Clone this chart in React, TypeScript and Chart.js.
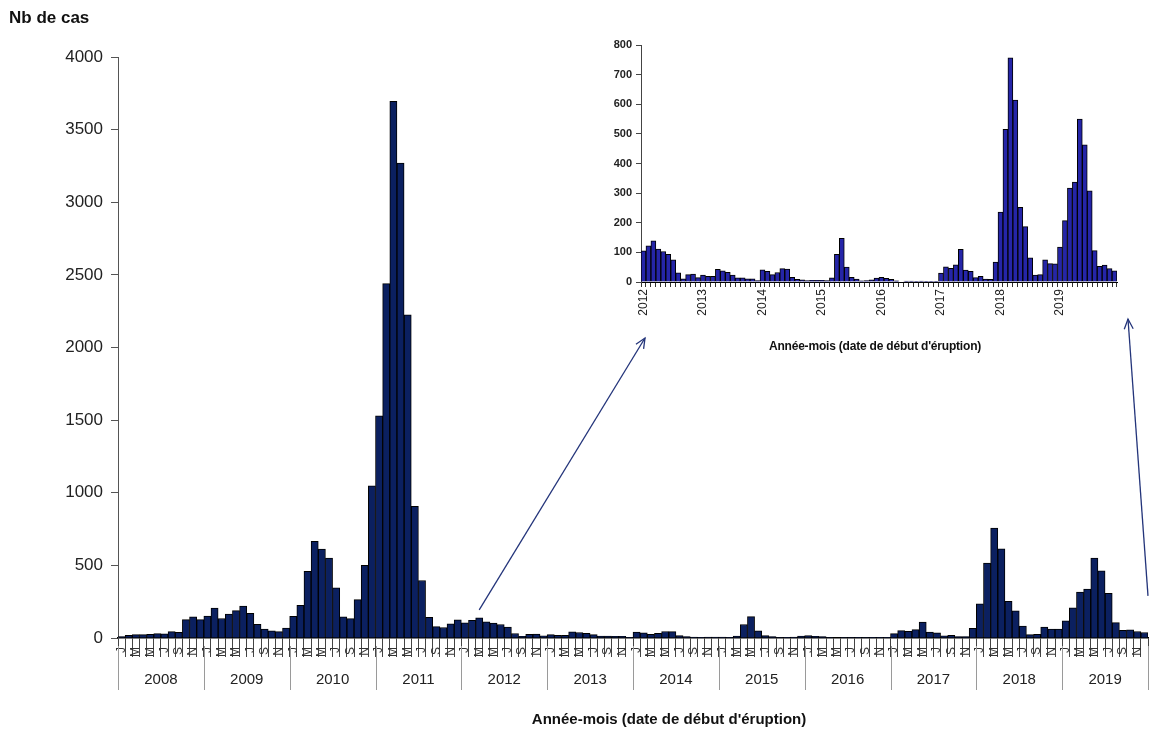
import React, { useEffect, useRef } from "react";
import { Chart, registerables } from "chart.js";

Chart.register(...registerables);

const FONT = "'Liberation Sans', Arial, Helvetica, sans-serif";

const years = ["2008", "2009", "2010", "2011", "2012", "2013", "2014", "2015", "2016", "2017", "2018", "2019"];
const monthLetters = ["J", "F", "M", "A", "M", "J", "J", "A", "S", "O", "N", "D"];

const cases2008 = [10, 18, 23, 23, 25, 30, 28, 44, 39, 126, 145, 126];
const cases2009 = [151, 206, 134, 165, 189, 220, 170, 94, 62, 50, 44, 69];
const cases2010 = [149, 225, 459, 665, 612, 551, 345, 145, 133, 264, 500, 1048];
const cases2011 = [1530, 2440, 3695, 3270, 2225, 906, 396, 143, 78, 72, 97, 125];
const cases2012 = [105, 122, 139, 111, 103, 93, 75, 31, 11, 25, 27, 15];
const cases2013 = [23, 19, 19, 43, 38, 33, 23, 14, 14, 11, 11, 5];
const cases2014 = [41, 36, 25, 32, 45, 44, 16, 9, 7, 5, 6, 6];
const cases2015 = [6, 5, 14, 93, 147, 50, 16, 10, 4, 5, 7, 13];
const cases2016 = [16, 12, 9, 4, 0, 3, 3, 2, 3, 1, 1, 1];
const cases2017 = [30, 51, 46, 58, 110, 40, 36, 15, 19, 10, 9, 67];
const cases2018 = [236, 515, 757, 614, 252, 187, 82, 23, 25, 75, 62, 61];
const cases2019 = [118, 207, 317, 337, 550, 463, 308, 106, 53, 57, 45, 38];

const mainYears = years;
const insetYears = years.slice(4);

const mainCases = [
  ...cases2008, ...cases2009, ...cases2010, ...cases2011,
  ...cases2012, ...cases2013, ...cases2014, ...cases2015,
  ...cases2016, ...cases2017, ...cases2018, ...cases2019,
];
const insetCases = [
  ...cases2012, ...cases2013, ...cases2014, ...cases2015,
  ...cases2016, ...cases2017, ...cases2018, ...cases2019,
];

const mainLabels = mainYears.flatMap((y) => monthLetters.map((m, i) => `${y}-${i + 1}`));
const insetLabels = insetYears.flatMap((y) => monthLetters.map((m, i) => `${y}-${i + 1}`));

const mainYMax = 4000;
const mainYStep = 500;
const insetYMax = 800;
const insetYStep = 100;

const mainTitle = "Nb de cas";
const xTitle = "Année-mois (date de début d'éruption)";

function drawArrow(ctx: CanvasRenderingContext2D, x1: number, y1: number, x2: number, y2: number) {
  ctx.beginPath();
  ctx.moveTo(x1, y1);
  ctx.lineTo(x2, y2);
  ctx.stroke();
  const ang = Math.atan2(y2 - y1, x2 - x1);
  const len = 11;
  const spread = 0.42;
  ctx.beginPath();
  ctx.moveTo(x2 - len * Math.cos(ang - spread), y2 - len * Math.sin(ang - spread));
  ctx.lineTo(x2, y2);
  ctx.lineTo(x2 - len * Math.cos(ang + spread), y2 - len * Math.sin(ang + spread));
  ctx.stroke();
}

const mainDecor = {
  id: "mainDecor",
  afterDraw(chart: any) {
    const { ctx, chartArea } = chart;
    const x = chart.scales.x;
    const y = chart.scales.y;
    const half = (x.getPixelForValue(1) - x.getPixelForValue(0)) / 2;
    ctx.save();
    // year separators
    ctx.strokeStyle = "#9a9a9a";
    ctx.lineWidth = 1;
    for (let k = 0; k <= mainYears.length; k++) {
      const px = k < mainYears.length ? x.getPixelForValue(k * 12) - half : x.getPixelForValue(mainCases.length - 1) + half;
      const xx = Math.round(px) + 0.5;
      ctx.beginPath();
      ctx.moveTo(xx, chartArea.bottom + 8);
      ctx.lineTo(xx, chartArea.bottom + 52);
      ctx.stroke();
    }
    // year labels
    ctx.fillStyle = "#222";
    ctx.font = `15px ${FONT}`;
    ctx.textAlign = "center";
    ctx.textBaseline = "middle";
    mainYears.forEach((yr, k) => {
      const cx = (x.getPixelForValue(k * 12) + x.getPixelForValue(k * 12 + 11)) / 2;
      ctx.fillText(yr, cx, chartArea.bottom + 42);
    });
    // arrows
    ctx.strokeStyle = "#23347a";
    ctx.lineWidth = 1.3;
    const a1x = x.getPixelForValue(50);
    const a1y = y.getPixelForValue(mainCases[50]) - 8;
    drawArrow(ctx, a1x, a1y, 645, 338);
    const a2x = chartArea.right;
    const a2y = y.getPixelForValue(290);
    drawArrow(ctx, a2x, a2y, 1128, 319);
    ctx.restore();
  },
};

export default function App() {
  const mainRef = useRef<HTMLCanvasElement | null>(null);
  const insetRef = useRef<HTMLCanvasElement | null>(null);

  useEffect(() => {
    if (!mainRef.current || !insetRef.current) return;
    const main = new Chart(mainRef.current, {
      type: "bar",
      data: {
        labels: mainLabels,
        datasets: [
          {
            data: mainCases,
            backgroundColor: "#0b2060",
            borderColor: "#000000",
            borderWidth: 1,
            categoryPercentage: 1,
            barPercentage: 1,
          },
        ],
      },
      options: {
        animation: false,
        responsive: false,
        maintainAspectRatio: false,
        layout: { padding: { left: 58, top: 57, right: 1, bottom: 53 } },
        plugins: { legend: { display: false }, tooltip: { enabled: false } },
        scales: {
          x: {
            type: "category",
            offset: true,
            grid: {
              display: true,
              offset: true,
              drawOnChartArea: false,
              drawTicks: true,
              tickLength: 19,
              color: "#444",
              lineWidth: 1,
            },
            border: { display: true, color: "#000", width: 1.5 },
            ticks: {
              autoSkip: false,
              minRotation: 90,
              maxRotation: 90,
              padding: -10,
              color: "#333",
              font: { size: 12, family: FONT },
              callback: (_v: any, i: number) => (i % 2 === 0 ? monthLetters[i % 12] : ""),
            },
            afterFit: (s: any) => {
              s.height = 40;
            },
          },
          y: {
            min: 0,
            max: mainYMax,
            ticks: {
              stepSize: mainYStep,
              color: "#222",
              padding: 8,
              font: { size: 17, family: FONT },
              callback: (v: any) => String(v),
            },
            grid: {
              display: true,
              drawOnChartArea: false,
              drawTicks: true,
              tickLength: 7,
              color: "#555",
            },
            border: { display: true, color: "#555", width: 1 },
            afterFit: (s: any) => {
              s.width = 60;
            },
          },
        },
      },
      plugins: [mainDecor],
    } as any);

    const inset = new Chart(insetRef.current, {
      type: "bar",
      data: {
        labels: insetLabels,
        datasets: [
          {
            data: insetCases,
            backgroundColor: "#2525a8",
            borderColor: "#000000",
            borderWidth: 1,
            categoryPercentage: 1,
            barPercentage: 1,
          },
        ],
      },
      options: {
        animation: false,
        responsive: false,
        maintainAspectRatio: false,
        layout: { padding: { left: 21, top: 15, right: 23, bottom: 2 } },
        plugins: { legend: { display: false }, tooltip: { enabled: false } },
        scales: {
          x: {
            type: "category",
            offset: true,
            grid: {
              display: true,
              offset: true,
              drawOnChartArea: false,
              drawTicks: true,
              tickLength: 5,
              color: "#333",
            },
            border: { display: true, color: "#000", width: 1 },
            ticks: {
              autoSkip: false,
              minRotation: 90,
              maxRotation: 90,
              padding: 2,
              color: "#222",
              font: { size: 12, family: FONT },
              callback: (_v: any, i: number) => (i % 12 === 0 ? insetYears[i / 12] : ""),
            },
            afterFit: (s: any) => {
              s.height = 36;
            },
          },
          y: {
            min: 0,
            max: insetYMax,
            ticks: {
              stepSize: insetYStep,
              color: "#222",
              padding: 4,
              font: { size: 11, family: FONT, weight: "bold" },
              callback: (v: any) => String(v),
            },
            grid: {
              display: true,
              drawOnChartArea: false,
              drawTicks: true,
              tickLength: 5,
              color: "#444",
            },
            border: { display: true, color: "#444", width: 1 },
            afterFit: (s: any) => {
              s.width = 40;
            },
          },
        },
      },
    } as any);

    return () => {
      main.destroy();
      inset.destroy();
    };
  }, []);

  return (
    <div
      style={{
        position: "fixed",
        left: 0,
        top: 0,
        width: 1149,
        height: 731,
        background: "#ffffff",
        overflow: "hidden",
        fontFamily: FONT,
      }}
    >
      <canvas
        ref={mainRef}
        width={1149}
        height={731}
        style={{ position: "absolute", left: 0, top: 0, width: 1149, height: 731 }}
      />
      <canvas
        ref={insetRef}
        width={560}
        height={290}
        style={{ position: "absolute", left: 580, top: 30, width: 560, height: 290 }}
      />
      <div
        style={{
          position: "absolute",
          left: 9,
          top: 8,
          fontSize: 17,
          fontWeight: "bold",
          color: "#111",
          whiteSpace: "nowrap",
        }}
      >
        {mainTitle}
      </div>
      <div
        style={{
          position: "absolute",
          left: 369,
          width: 600,
          top: 710,
          textAlign: "center",
          fontSize: 15,
          fontWeight: "bold",
          color: "#111",
          whiteSpace: "nowrap",
        }}
      >
        {xTitle}
      </div>
      <div
        style={{
          position: "absolute",
          left: 725,
          width: 300,
          top: 339,
          textAlign: "center",
          fontSize: 12,
          fontWeight: "bold",
          color: "#111",
          whiteSpace: "nowrap",
          letterSpacing: -0.2,
        }}
      >
        {xTitle}
      </div>
    </div>
  );
}
